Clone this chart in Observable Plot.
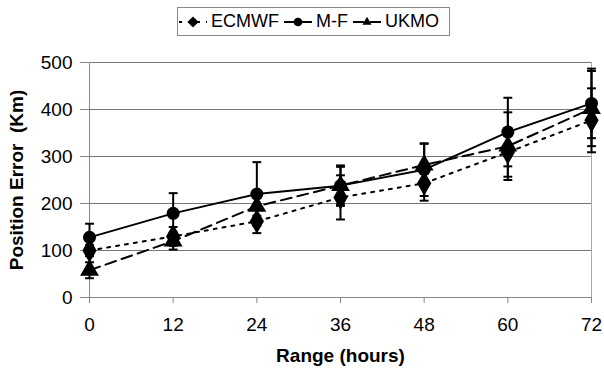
<!DOCTYPE html>
<html>
<head>
<meta charset="utf-8">
<script src="https://cdn.jsdelivr.net/npm/d3@7"></script>
<script src="https://cdn.jsdelivr.net/npm/@observablehq/plot@0.6"></script>
<style>
  html, body { margin: 0; padding: 0; background: #fff; }
  body { width: 604px; height: 374px; overflow: hidden; font-family: "Liberation Sans", Arial, sans-serif; }
  #legend { height: 45px; position: relative; }
  #legend .box { position: absolute; left: 177px; top: 7px; height: 29px; padding: 0 6px 0 0; border: 1px solid #888; box-sizing: border-box;
    display: flex; align-items: center; font-size: 18px; color: #000; white-space: nowrap; }
  #legend .item { display: flex; align-items: center; margin-right: 4px; }
  #legend svg { margin-right: 3px; }
  g[aria-label="y-axis label"] text, g[aria-label="x-axis label"] text { font-weight: bold; }
</style>
</head>
<body>
<div id="legend"></div>
<div id="chart"></div>
<script>
const hours = [0, 12, 24, 36, 48, 60, 72];
const seriesNames = ["ECMWF", "M-F", "UKMO"];
const ecmwf = [100, 130, 162, 213, 243, 309, 377];
const mf = [128, 179, 220, 238, 272, 352, 413];
const ukmo = [58, 120, 194, 238, 282, 322, 402];
const ecmwfErr = [12, 20, 25, 47, 37, 52, 68];
const mfErr = [29, 43, 68, 43, 56, 73, 74];
const ukmoErr = [17, 18, 20, 40, 45, 72, 80];
const yTicks = [0, 100, 200, 300, 400, 500];

const styles = {
  "ECMWF": {symbol: "diamond", dash: "3,6", r: 7.5, legendSize: 80},
  "M-F": {symbol: "circle", dash: null, r: 6.5, legendSize: 60},
  "UKMO": {symbol: "triangle", dash: "11,6", r: 7, legendSize: 60}
};
const valuesBy = {"ECMWF": ecmwf, "M-F": mf, "UKMO": ukmo};
const errBy = {"ECMWF": ecmwfErr, "M-F": mfErr, "UKMO": ukmoErr};

const data = [];
for (const s of seriesNames) {
  hours.forEach((h, i) => data.push({series: s, hour: h, value: valuesBy[s][i], err: errBy[s][i]}));
}

const capSymbol = {
  draw(ctx, size) { const w = Math.sqrt(size); ctx.moveTo(-w, 0); ctx.lineTo(w, 0); }
};

const marks = [
  Plot.gridY(yTicks, {stroke: "#777", strokeOpacity: 1}),
  Plot.ruleX([72], {stroke: "#aaa"}),
  Plot.ruleX([0], {stroke: "#888"}),
  Plot.ruleY([0], {stroke: "#888"}),
  Plot.axisY({ticks: yTicks, tickSize: 9, tickPadding: 8, fontSize: 19, stroke: "#888", label: null}),
  Plot.axisY({ticks: [], label: "Position Error  (Km)", fontSize: 19, labelAnchor: "center", labelArrow: "none", labelOffset: 80}),
  Plot.axisX({ticks: hours, tickSize: 6, tickPadding: 14, fontSize: 19, stroke: "#888", label: "Range (hours)", labelAnchor: "center", labelArrow: "none", labelOffset: 64}),
  Plot.ruleX(data, {x: "hour", y1: d => d.value - d.err, y2: d => d.value + d.err, stroke: "#000", strokeWidth: 2}),
  Plot.dot(data, {x: "hour", y: d => d.value - d.err, symbol: capSymbol, r: 2.5, stroke: "#000", strokeWidth: 2, fill: "none"}),
  Plot.dot(data, {x: "hour", y: d => d.value + d.err, symbol: capSymbol, r: 2.5, stroke: "#000", strokeWidth: 2, fill: "none"})
];
for (const s of seriesNames) {
  const sd = data.filter(d => d.series === s);
  marks.push(Plot.line(sd, {x: "hour", y: "value", stroke: "#000", strokeWidth: 2, strokeDasharray: styles[s].dash}));
}
for (const s of seriesNames) {
  const sd = data.filter(d => d.series === s);
  marks.push(Plot.dot(sd, {x: "hour", y: "value", symbol: styles[s].symbol, r: styles[s].r, fill: "#000", stroke: "none"}));
}

const chart = Plot.plot({
  width: 604,
  height: 329,
  marginTop: 17,
  marginBottom: 77,
  marginLeft: 89,
  marginRight: 13,
  style: {fontSize: "19px", fontFamily: "'Liberation Sans', Arial, sans-serif", color: "#000", background: "#fff"},
  x: {domain: [0, 72]},
  y: {domain: [0, 500]},
  marks
});
document.getElementById("chart").appendChild(chart);

// Legend
const box = document.createElement("div");
box.className = "box";
for (const s of seriesNames) {
  const item = document.createElement("div");
  item.className = "item";
  const sw = d3.create("svg").attr("width", 30).attr("height", 14);
  sw.append("line").attr("x1", 1).attr("x2", 29).attr("y1", 7).attr("y2", 7)
    .attr("stroke", "#000").attr("stroke-width", 2).attr("stroke-dasharray", styles[s].dash);
  const symType = {diamond: d3.symbolDiamond2, circle: d3.symbolCircle, triangle: d3.symbolTriangle2}[styles[s].symbol];
  sw.append("path").attr("transform", "translate(15,7)").attr("d", d3.symbol(symType, styles[s].legendSize)()).attr("fill", "#000");
  item.appendChild(sw.node());
  const t = document.createElement("span");
  t.textContent = s;
  item.appendChild(t);
  box.appendChild(item);
}
document.getElementById("legend").appendChild(box);
</script>
</body>
</html>
